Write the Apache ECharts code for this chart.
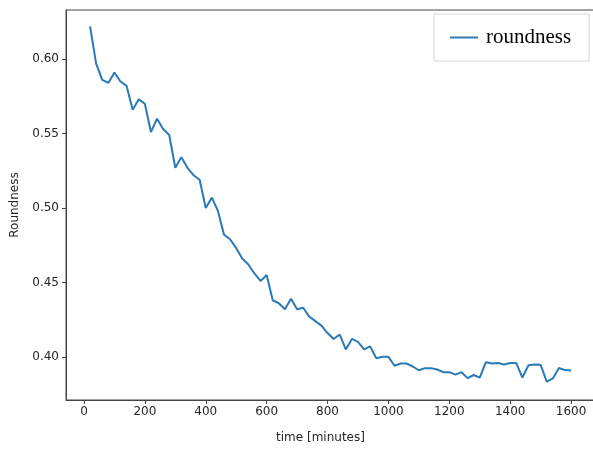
<!DOCTYPE html>
<html>
<head>
<meta charset="utf-8">
<script src="https://cdn.jsdelivr.net/npm/echarts@6/dist/echarts.min.js"></script>
<style>
  html, body { margin: 0; padding: 0; background: #fff; }
  #chart { width: 593px; height: 451px; }
</style>
</head>
<body>
<div id="chart"></div>
<script>
// time in minutes, one sample every 20 min
const times = [
  20, 40, 60, 80, 100, 120, 140, 160, 180, 200,
  220, 240, 260, 280, 300, 320, 340, 360, 380, 400,
  420, 440, 460, 480, 500, 520, 540, 560, 580, 600,
  620, 640, 660, 680, 700, 720, 740, 760, 780, 800,
  820, 840, 860, 880, 900, 920, 940, 960, 980, 1000,
  1020, 1040, 1060, 1080, 1100, 1120, 1140, 1160, 1180, 1200,
  1220, 1240, 1260, 1280, 1300, 1320, 1340, 1360, 1380, 1400,
  1420, 1440, 1460, 1480, 1500, 1520, 1540, 1560, 1580, 1600
];
const roundness = [
  0.622, 0.597, 0.586, 0.584, 0.591, 0.585, 0.582, 0.566, 0.573, 0.570,
  0.551, 0.560, 0.553, 0.549, 0.527, 0.534, 0.527, 0.522, 0.519, 0.500,
  0.507, 0.498, 0.482, 0.479, 0.473, 0.466, 0.462, 0.456, 0.451, 0.455,
  0.438, 0.436, 0.432, 0.439, 0.432, 0.433, 0.427, 0.424, 0.421, 0.416,
  0.412, 0.415, 0.405, 0.412, 0.410, 0.405, 0.407, 0.399, 0.400, 0.400,
  0.394, 0.3955, 0.3955, 0.3935, 0.391, 0.3924, 0.3924, 0.3915, 0.3897, 0.3897,
  0.388, 0.3897, 0.3857, 0.3878, 0.386, 0.3964, 0.3955, 0.3958, 0.3948, 0.3958,
  0.3958, 0.3861, 0.3943, 0.3948, 0.3946, 0.3833, 0.3855, 0.3925, 0.3911, 0.3908
];
const xTicks = [0, 200, 400, 600, 800, 1000, 1200, 1400, 1600];
const yTicks = [0.40, 0.45, 0.50, 0.55, 0.60];

const chart = echarts.init(document.getElementById('chart'));
const tickFont = { fontFamily: 'DejaVu Sans', fontSize: 12, color: '#262626' };
const frame = { show: true, onZero: false, lineStyle: { color: '#444', width: 1 } };

// plot frame runs past the right edge of the picture, like the cropped original
chart.setOption({
  animation: false,
  backgroundColor: '#fff',
  grid: {
    left: 66, top: 10, width: 545, height: 390,
    outerBoundsMode: 'none', containLabel: false,
    show: true, borderColor: '#444', borderWidth: 1, backgroundColor: 'transparent'
  },
  legend: {
    left: 434, top: 14,
    padding: [13, 18, 13, 16],
    borderColor: '#d6d6d6', borderWidth: 1, borderRadius: 0,
    backgroundColor: '#fff',
    icon: 'rect', itemWidth: 28, itemHeight: 2,
    textStyle: { fontFamily: 'Liberation Serif', fontSize: 21, color: '#000', padding: [0, 0, 0, 3] },
    data: ['roundness']
  },
  xAxis: {
    type: 'value', min: -59, max: 1731,
    name: 'time [minutes]', nameLocation: 'middle', nameGap: 32,
    nameTextStyle: { fontFamily: 'DejaVu Sans', fontSize: 12, color: '#262626', padding: [0, 36, 0, 0] },
    axisLine: frame,
    splitLine: { show: false },
    axisTick: { show: true, inside: false, length: 4, customValues: xTicks, lineStyle: { color: '#444' } },
    axisLabel: Object.assign({
      margin: 6, customValues: xTicks,
      formatter: function (v) { return String(v); }
    }, tickFont)
  },
  yAxis: {
    type: 'value', min: 0.371, max: 0.633,
    name: 'Roundness', nameLocation: 'middle', nameRotate: 90, nameGap: 45,
    nameTextStyle: { fontFamily: 'DejaVu Sans', fontSize: 12, color: '#262626' },
    axisLine: frame,
    splitLine: { show: false },
    axisTick: { show: true, inside: false, length: 4, customValues: yTicks, lineStyle: { color: '#444' } },
    axisLabel: Object.assign({
      margin: 7, customValues: yTicks,
      formatter: function (v) { return v.toFixed(2); }
    }, tickFont)
  },
  series: [{
    name: 'roundness',
    type: 'line',
    data: times.map(function (t, i) { return [t, roundness[i]]; }),
    showSymbol: false,
    lineStyle: { color: '#2a7ab8', width: 2 },
    itemStyle: { color: '#2a7ab8' }
  }]
});
</script>
</body>
</html>
